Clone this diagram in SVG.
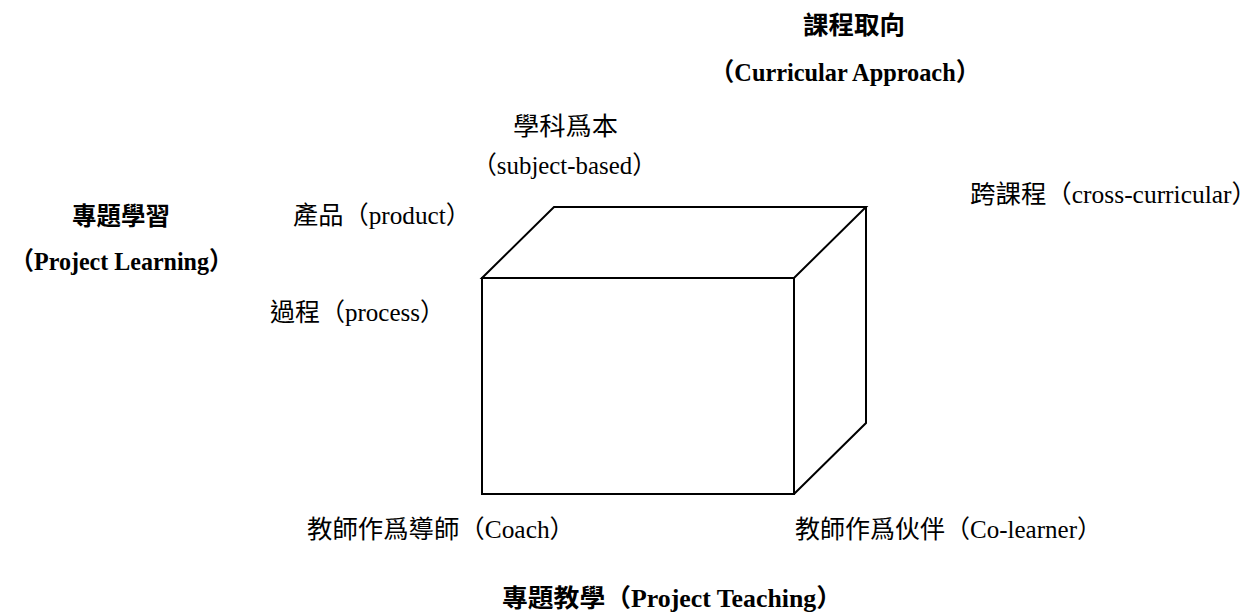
<svg xmlns="http://www.w3.org/2000/svg" width="1258" height="615" viewBox="0 0 1258 615">
<style>
.lbl{font-family:"Liberation Serif","Noto Sans CJK TC",serif;font-size:25px;fill:#000}
.b{font-weight:bold}
.edge{fill:none;stroke:#000;stroke-width:2;stroke-linejoin:miter}
</style>
<rect width="1258" height="615" fill="#fff"/>
<g id="cube">
<polygon class="edge" points="482,278 554,207 866,207 794,278"/>
<rect class="edge" x="482" y="278" width="312" height="216"/>
<polyline class="edge" points="794,494 866,423 866,207"/>
</g>
<g id="curricular-approach">
<text class="lbl b" x="803" y="34" textLength="102" lengthAdjust="spacingAndGlyphs">課程取向</text>
<text class="lbl b" x="710" y="81" textLength="270" lengthAdjust="spacingAndGlyphs">（Curricular Approach）</text>
</g>
<g id="subject-based">
<text class="lbl" x="513" y="135" textLength="105" lengthAdjust="spacingAndGlyphs">學科爲本</text>
<text class="lbl" x="472" y="174" textLength="185" lengthAdjust="spacingAndGlyphs">（subject-based）</text>
</g>
<g id="cross-curricular">
<text class="lbl" x="970" y="203" textLength="287" lengthAdjust="spacingAndGlyphs">跨課程（cross-curricular）</text>
</g>
<g id="project-learning">
<text class="lbl b" x="72" y="225" textLength="98" lengthAdjust="spacingAndGlyphs">專題學習</text>
<text class="lbl b" x="10" y="270" textLength="223" lengthAdjust="spacingAndGlyphs">（Project Learning）</text>
</g>
<g id="product">
<text class="lbl" x="293" y="224" textLength="178" lengthAdjust="spacingAndGlyphs">產品（product）</text>
</g>
<g id="process">
<text class="lbl" x="270" y="321" textLength="175" lengthAdjust="spacingAndGlyphs">過程（process）</text>
</g>
<g id="coach">
<text class="lbl" x="307" y="538" textLength="268" lengthAdjust="spacingAndGlyphs">教師作爲導師（Coach）</text>
</g>
<g id="co-learner">
<text class="lbl" x="795" y="538" textLength="307" lengthAdjust="spacingAndGlyphs">教師作爲伙伴（Co-learner）</text>
</g>
<g id="project-teaching">
<text class="lbl b" x="502" y="607" textLength="340" lengthAdjust="spacingAndGlyphs">專題教學（Project Teaching）</text>
</g>
</svg>
